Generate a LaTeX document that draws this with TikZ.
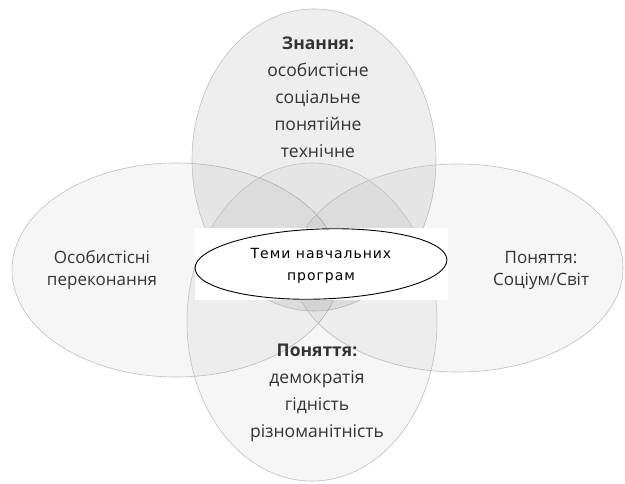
\documentclass[tikz,border=0pt]{standalone}
\usepackage{fontspec}
\setmainfont{Open Sans}
\newfontfamily\centerfont[LetterSpace=7]{DejaVu Sans}
\begin{document}
\begin{tikzpicture}[x=1pt,y=-1pt,
  petal/.style={draw=black!25, line width=0.6pt, fill=black, fill opacity=0.035},
  toppetal/.style={petal, fill opacity=0.065},
  label/.style={align=center, text=black!80, font=\fontsize{17.5}{27}\selectfont},
  sidelabel/.style={align=center, text=black!80, font=\fontsize{17}{22}\selectfont},
]
\useasboundingbox (0,0) rectangle (625,483);
\fill[white] (0,0) rectangle (625,483);

% four overlapping petals
\draw[petal]    (176,270) ellipse [x radius=164, y radius=107];
\draw[toppetal] (314,160) ellipse [x radius=122, y radius=151];
\draw[petal]    (458,268) ellipse [x radius=165, y radius=104];
\draw[petal]    (312,322) ellipse [x radius=125, y radius=159];

% white panel behind the central theme
\fill[white] (195,228) rectangle (448,300);
\draw[line width=0.9pt] (321,264) node (core) {} [rotate around={2:(321,264)}] ellipse [x radius=126, y radius=35];

\node[align=center, font=\centerfont\fontsize{14}{22}\selectfont] (theme) at (321,266) {Теми навчальних\\програм};

\node[label] (know) at (318,97) {\textbf{Знання:}\\особистісне\\соціальне\\понятійне\\технічне};
\node[sidelabel] (beliefs) at (102,270) {Особистісні\\переконання};
\node[sidelabel] (society) at (541,270) {Поняття:\\Соціум/Світ};
\node[label] (concepts) at (317,393) {\textbf{Поняття:}\\демократія\\гідність\\різноманітність};
\end{tikzpicture}
\end{document}
